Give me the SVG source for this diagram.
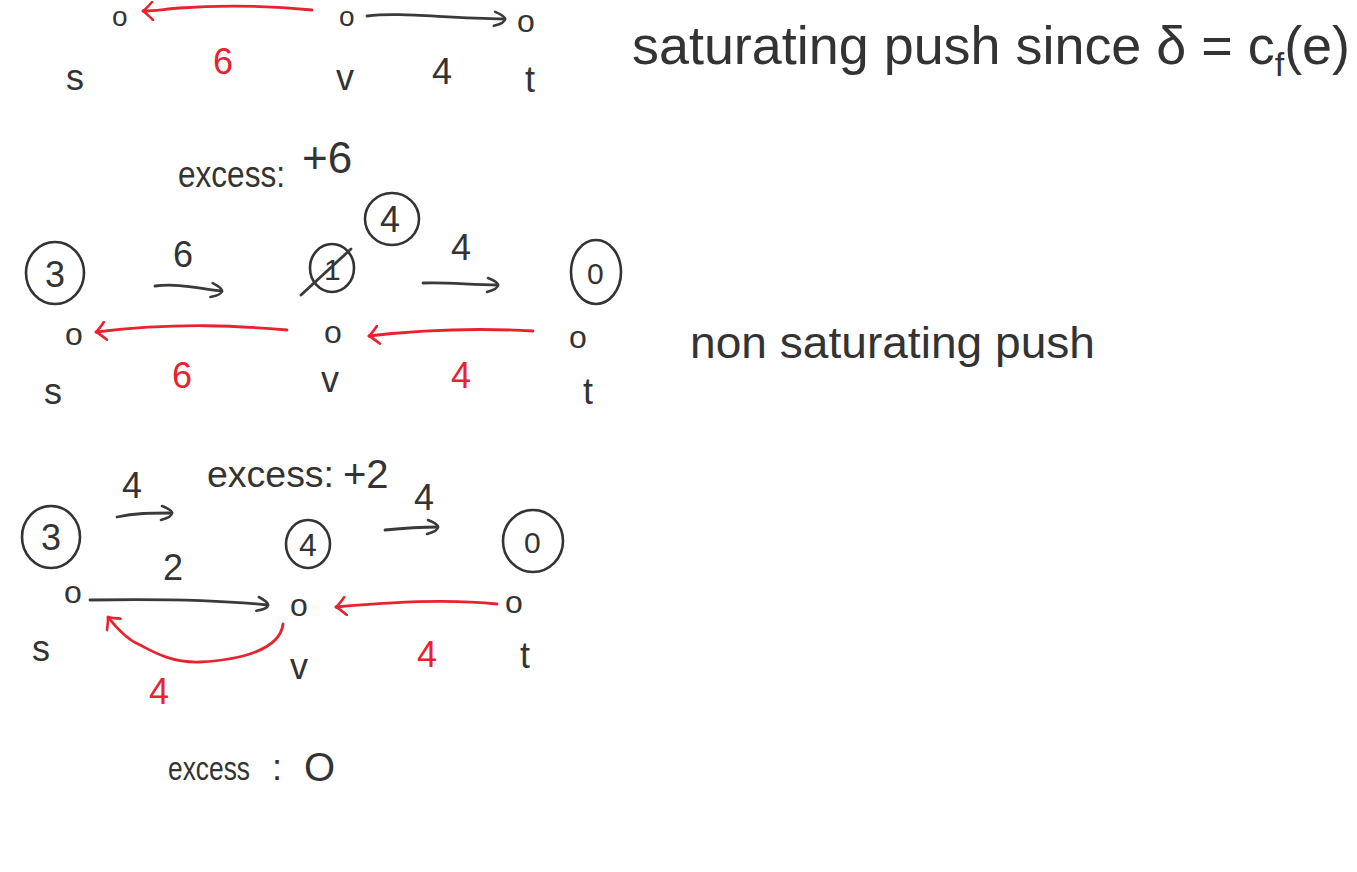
<svg xmlns="http://www.w3.org/2000/svg" width="1357" height="872" viewBox="0 0 1357 872">
<style>
text{font-family:"Liberation Sans","DejaVu Sans",sans-serif;fill:#333}
.r{fill:#e8232f}
.lbl{font-size:36px}
.pt{font-size:32px}
.big{font-size:54px}
.ring{fill:none;stroke:#333;stroke-width:2.6}
.ek{fill:none;stroke:#3a3a3a;stroke-width:2.8;stroke-linecap:round}
.er{fill:none;stroke:#e8232f;stroke-width:2.8;stroke-linecap:round}
</style>
<defs>
<marker id="hk" viewBox="-14 -10 18 20" refX="0" refY="0" markerWidth="18" markerHeight="20" markerUnits="userSpaceOnUse" orient="auto">
<path d="M-10,-7 Q0,-3 0,0 Q0,4 -11,7" fill="none" stroke="#3a3a3a" stroke-width="2.6" stroke-linecap="round"/>
</marker>
<marker id="hr" viewBox="-14 -10 18 20" refX="0" refY="0" markerWidth="18" markerHeight="20" markerUnits="userSpaceOnUse" orient="auto">
<path d="M-10,-9 Q-3,-2 0,0 Q-3,2 -9,9" fill="none" stroke="#e8232f" stroke-width="2.6" stroke-linecap="round" stroke-linejoin="round"/>
</marker>
</defs>
<rect width="1357" height="872" fill="#fff"/>

<!-- Section 1 -->
<g id="s1"><text font-size="28" x="112" y="26">o</text><text class="lbl" x="66" y="90">s</text></g>
<g id="v1"><text font-size="28" x="339" y="26">o</text><text class="lbl" x="336" y="90">v</text></g>
<g id="t1"><text class="pt" x="517" y="32">o</text><text class="lbl" x="525" y="92">t</text></g>
<text class="lbl r" x="213" y="74">6</text>
<text class="lbl" x="432" y="84">4</text>
<text class="big" x="632" y="64" textLength="718" lengthAdjust="spacingAndGlyphs">saturating push since δ = c<tspan font-size="34" dy="12">f</tspan><tspan dy="-12">(e)</tspan></text>
<g id="excess1"><text class="lbl" x="178" y="187" textLength="107" lengthAdjust="spacingAndGlyphs">excess:</text><text font-size="44" x="302" y="173">+6</text></g>

<!-- Section 2 -->
<g id="h_v2new"><ellipse class="ring" cx="392" cy="219" rx="27" ry="26"/><text class="lbl" x="380" y="232">4</text></g>
<g id="s2"><ellipse class="ring" cx="55" cy="273" rx="29" ry="31"/><text class="lbl" x="45" y="287">3</text><text class="pt" x="65" y="345">o</text><text class="lbl" x="44" y="404">s</text></g>
<g id="v2"><ellipse class="ring" cx="332" cy="268" rx="22" ry="24"/><text font-size="30" x="324" y="280">1</text><path class="ek" d="M301,295 L351,249"/><text class="pt" x="324" y="343">o</text><text class="lbl" x="321" y="392">v</text></g>
<g id="t2"><ellipse class="ring" cx="596" cy="272" rx="25" ry="32"/><text font-size="30" x="587" y="284">0</text><text class="pt" x="569" y="348">o</text><text class="lbl" x="583" y="404">t</text></g>
<text class="lbl" x="173" y="267">6</text>
<text class="lbl" x="451" y="260">4</text>
<text class="lbl r" x="172" y="388">6</text>
<text class="lbl r" x="451" y="388">4</text>
<text font-size="44" x="690" y="358" textLength="405" lengthAdjust="spacingAndGlyphs">non saturating push</text>

<!-- Section 3 -->
<g id="excess2"><text class="lbl" x="207" y="487" textLength="127" lengthAdjust="spacingAndGlyphs">excess:</text><text font-size="40" x="343" y="488">+2</text></g>
<g id="s3"><ellipse class="ring" cx="51" cy="537" rx="29" ry="31"/><text class="lbl" x="41" y="550">3</text><text class="pt" x="64" y="603">o</text><text class="lbl" x="32" y="661">s</text></g>
<g id="v3"><ellipse class="ring" cx="308" cy="544" rx="22" ry="24"/><text font-size="32" x="299" y="556">4</text><text class="pt" x="290" y="616">o</text><text class="lbl" x="290" y="679">v</text></g>
<g id="t3"><ellipse class="ring" cx="533" cy="541" rx="30" ry="31"/><text font-size="30" x="524" y="553">0</text><text class="pt" x="505" y="613">o</text><text class="lbl" x="520" y="668">t</text></g>
<text class="lbl" x="122" y="498">4</text>
<text class="lbl" x="414" y="510">4</text>
<text class="lbl" x="163" y="580">2</text>
<text class="lbl r" x="417" y="667">4</text>
<text class="lbl r" x="149" y="704">4</text>
<g id="excess3"><text font-size="33" x="168" y="780" textLength="82" lengthAdjust="spacingAndGlyphs">excess</text><text class="lbl" x="272" y="780">:</text><text font-size="40" x="304" y="781">O</text></g>

<!-- Connectors -->
<g id="connectors">
<path class="er" d="M312,10 C270,6 220,5 180,8 C165,9 155,11 143,11" marker-end="url(#hr)"/>
<path class="ek" d="M367,16 C400,12 440,18 505,19" marker-end="url(#hk)"/>
<path class="ek" d="M155,286 C180,283 200,289 222,291" marker-end="url(#hk)"/>
<path class="ek" d="M423,283 C450,282 470,285 498,285" marker-end="url(#hk)"/>
<path class="er" d="M287,330 C240,326 180,322 96,332" marker-end="url(#hr)"/>
<path class="er" d="M533,331 C480,328 420,330 369,336" marker-end="url(#hr)"/>
<path class="ek" d="M117,517 C135,513 150,513 172,513" marker-end="url(#hk)"/>
<path class="ek" d="M385,530 C405,528 420,527 438,527" marker-end="url(#hk)"/>
<path class="ek" d="M90,600 C150,599 210,599 268,605" marker-end="url(#hk)"/>
<path class="er" d="M497,604 C460,600 400,601 336,607" marker-end="url(#hr)"/>
<path class="er" d="M283,624 C280,650 240,660 200,662 C170,663 150,650 140,645 C128,640 118,630 108,617" marker-end="url(#hr)"/>
</g>
</svg>
